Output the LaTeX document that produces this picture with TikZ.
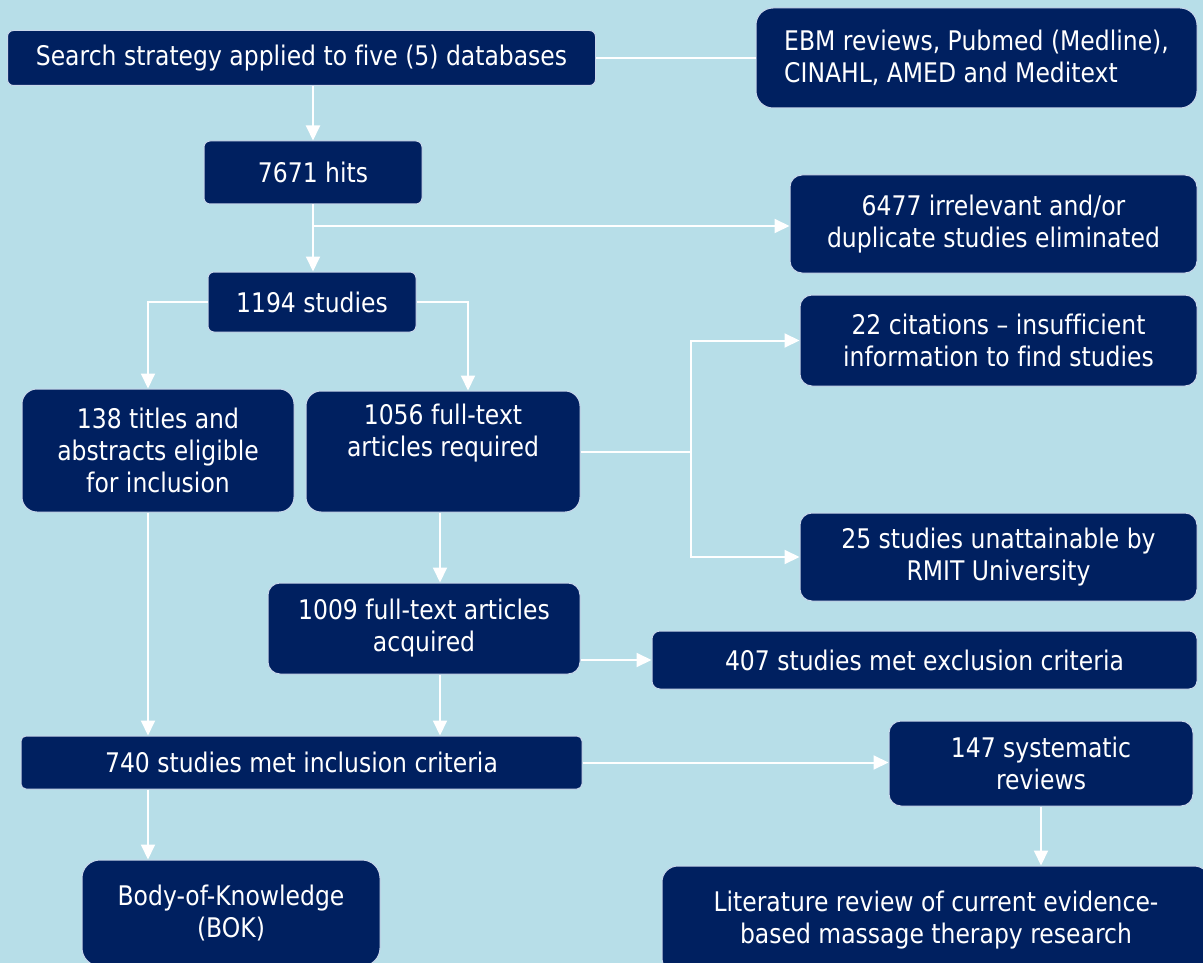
\documentclass[tikz,border=0pt]{standalone}
\usepackage{fontspec}
\setmainfont{DejaVu Sans}[FakeStretch=0.87, Ligatures=CommonOff]
\usetikzlibrary{arrows.meta}

\definecolor{bgblue}{HTML}{B7DEE8}
\definecolor{boxblue}{HTML}{002060}
\definecolor{edgeblue}{HTML}{C8D7EB}

\begin{document}
\begin{tikzpicture}[x=1pt, y=-1pt,
  box/.style={draw=edgeblue, line width=1pt, fill=boxblue, text=white, rounded corners=12,
    align=center, inner sep=0pt, font=\fontsize{27}{32}\selectfont},
  line/.style={draw=white, line width=2pt},
  arr/.style={line, -{Triangle[width=14pt,length=15pt]}}]
\path[use as bounding box, fill=bgblue] (0,0) rectangle (1203,963);

% boxes, centre and size in pixels
\node[box, rounded corners=6, minimum width=588, minimum height=55] (search) at (301.5,58) {Search strategy applied to five (5) databases};
\node[box, rounded corners=17, minimum width=441, minimum height=100, align=left] (dbs) at (976.5,58) {EBM reviews, Pubmed (Medline),\\CINAHL, AMED and Meditext};
\node[box, rounded corners=6, minimum width=218, minimum height=63] (hits) at (313,172.5) {7671 hits};
\node[box, minimum width=407, minimum height=98] (irrel) at (993.5,224) {6477 irrelevant and/or\\duplicate studies eliminated};
\node[box, rounded corners=6, minimum width=208, minimum height=60] (studies) at (312,302) {1194 studies};
\node[box, rounded corners=15, minimum width=272, minimum height=123] (abstr) at (158,450.5) {138 titles and\\abstracts eligible\\for inclusion};
\node[box, rounded corners=15, minimum width=274, minimum height=121] (full) at (443,451.5) {1056 full-text\\articles required\\\strut};
\node[box, minimum width=397, minimum height=91] (cite) at (998.5,340.5) {22 citations – insufficient\\information to find studies};
\node[box, minimum width=397, minimum height=88] (unatt) at (998.5,557) {25 studies unattainable by\\RMIT University};
\node[box, minimum width=312, minimum height=91] (acq) at (424,628.5) {1009 full-text articles\\acquired};
\node[box, rounded corners=8, minimum width=545, minimum height=58] (excl) at (924.5,660) {407 studies met exclusion criteria};
\node[box, rounded corners=5, minimum width=561, minimum height=53] (incl) at (301.5,762.5) {740 studies met inclusion criteria};
\node[box, minimum width=304, minimum height=85] (sysrev) at (1041,763.5) {147 systematic\\reviews};
\node[box, rounded corners=16, minimum width=548, minimum height=108] (lit) at (936,920) {Literature review of current evidence-\\based massage therapy research};
\node[box, rounded corners=18, minimum width=298, minimum height=106] (bok) at (231,913) {Body-of-Knowledge\\(BOK)};

% columns the connectors run along
\coordinate (lcol) at (148,0); \coordinate (mcol) at (440,0); \coordinate (rcol) at (468,0);
\coordinate (fork) at (691,0); \coordinate (split) at (313,226);

\draw[line] (search.east) -- (search.east -| dbs.west);
\draw[arr] (hits.north |- search.south) -- (hits.north);
\draw[arr] (hits.south) -- (hits.south |- studies.north);
\draw[arr] (split) -- (split -| irrel.west);
\draw[arr] (studies.west) -| (lcol |- abstr.north);
\draw[arr] (studies.east) -| (rcol |- full.north);
\draw[line] (full.east) -- (fork |- full.east);
\draw[arr] (fork |- full.east) |- (cite.west);
\draw[arr] (fork |- full.east) |- (unatt.west);
\draw[arr] (mcol |- full.south) -- (mcol |- acq.north);
\draw[arr] (acq.east |- excl.west) -- (excl.west);
\draw[arr] (lcol |- abstr.south) -- (lcol |- incl.north);
\draw[arr] (mcol |- acq.south) -- (mcol |- incl.north);
\draw[arr] (incl.east) -- (incl.east -| sysrev.west);
\draw[arr] (sysrev.south) -- (sysrev.south |- lit.north);
\draw[arr] (lcol |- incl.south) -- (lcol |- bok.north);
\end{tikzpicture}
\end{document}
